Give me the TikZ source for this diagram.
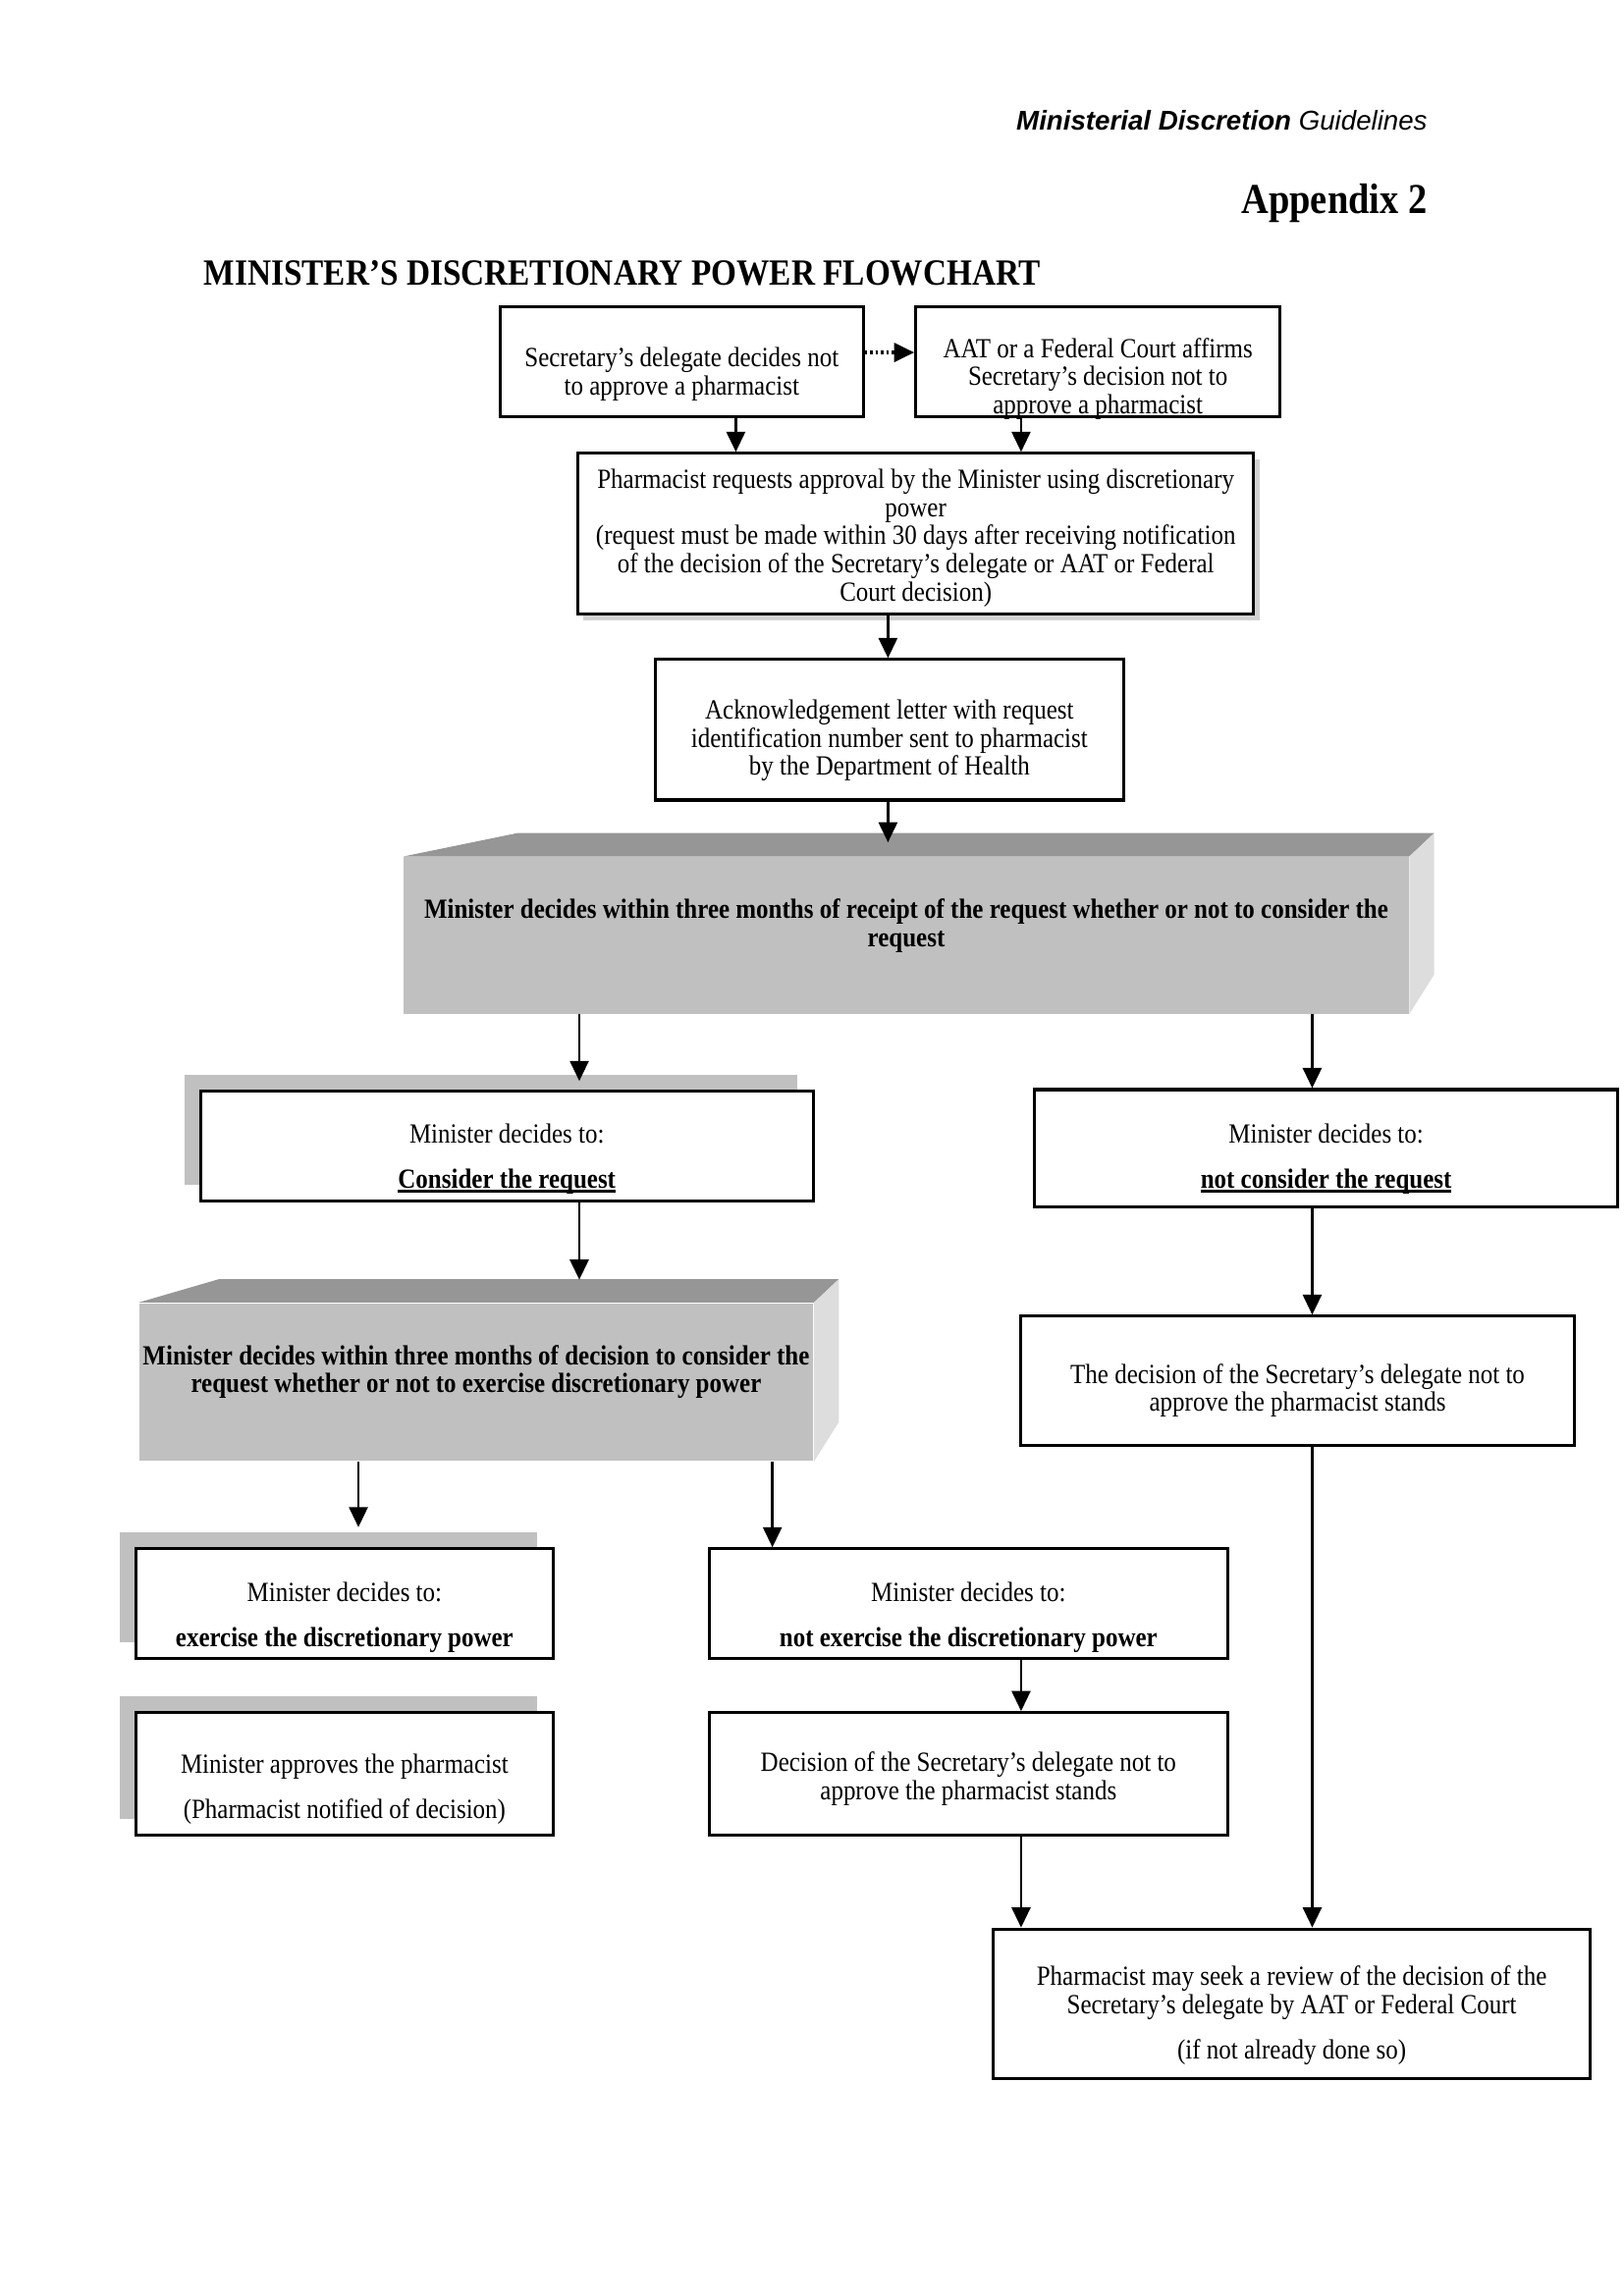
\documentclass[tikz,border=0pt]{standalone}
\usepackage{fontspec}
\setmainfont[FakeStretch=0.885]{Liberation Serif}
\newfontfamily\headfont{Liberation Sans}
\usepackage{xcolor}
\usepackage{tikz}
\usetikzlibrary{arrows.meta}
\usetikzlibrary{shadows}
\definecolor{frontgray}{HTML}{C0C0C0}
\definecolor{topgray}{HTML}{969696}
\definecolor{sidegray}{HTML}{DDDDDD}
\definecolor{backgray}{HTML}{C0C0C0}
\newlength{\pxu}
\setlength{\pxu}{0.189189mm}
\newcommand{\boxfont}{\fontsize{10.2pt}{10.35pt}\selectfont}
\newcommand{\gap}{\\[6.3pt]}
\newcommand{\thickul}[1]{\setbox0\hbox{#1}\rlap{\rule[-1.7pt]{\wd0}{0.95pt}}\box0}
% box text, pushed down by #1 without changing the box
\newcommand{\sinktext}[2]{\raisebox{-#1\pxu}[\height][\depth]{\begin{tabular}{@{}c@{}}#2\end{tabular}}}
\tikzset{
	box/.style={draw, line width=1.1pt, fill=white, inner sep=0pt, font=\boxfont},
	backbox/.style={box, drop shadow={shadow xshift=-11*\pxu, shadow yshift=11*\pxu, fill=backgray, opacity=1}},
	softbox/.style={box, drop shadow={shadow xshift=4*\pxu, shadow yshift=-4*\pxu, fill=gray!35, opacity=1}},
	slab/.style={fill=frontgray, inner sep=0pt},
	slabtext/.style={align=center, font=\boxfont\bfseries},
	arr/.style={line width=1pt, -{Triangle[length=2.6mm, width=2.4mm]}},
}

\begin{document}
\begin{tikzpicture}[x=0.189189mm, y=-0.189189mm]
	\useasboundingbox (0,0) rectangle (1110,1569.9);

	% page heading
	\node[anchor=base east, inner sep=0pt, font=\headfont\fontsize{10pt}{12pt}\selectfont] (head) at (976,89) {\textbf{\textit{Ministerial Discretion}} \textit{Guidelines}};
	\node[anchor=base east, inner sep=0pt, font=\fontsize{15.7pt}{18pt}\selectfont\bfseries] (appx) at (976,146) {Appendix 2};
	\node[anchor=base west, inner sep=0pt, font=\fontsize{13.6pt}{16pt}\selectfont\bfseries] (title) at (139,195) {MINISTER’S DISCRETIONARY POWER FLOWCHART};

	% top boxes
	\node[box, minimum width=248*\pxu, minimum height=75*\pxu] (sec) at (466,247.5) {\sinktext{9}{Secretary’s delegate decides not\\to approve a pharmacist}};
	\node[box, minimum width=249*\pxu, minimum height=75*\pxu] (aat) at (750.5,247.5) {};
	\node[font=\boxfont, align=center, inner sep=0pt] (aattxt) at (750.5,259) {AAT or a Federal Court affirms\\Secretary’s decision not to\\approve a pharmacist};

	\node[softbox, minimum width=462*\pxu, minimum height=110*\pxu] (req) at (626,365) {\sinktext{3.5}{Pharmacist requests approval by the Minister using discretionary\\power\\(request must be made within 30 days after receiving notification\\of the decision of the Secretary’s delegate or AAT or Federal\\Court decision)}};

	\node[box, minimum width=320*\pxu, minimum height=96*\pxu] (ack) at (608,499) {\sinktext{8}{Acknowledgement letter with request\\identification number sent to pharmacist\\by the Department of Health}};

	% first slab
	\node[slab, minimum width=687*\pxu, minimum height=107*\pxu] (bigone) at (619.5,639.5) {};
	\fill[topgray] (bigone.north west) -- ++(78,-16) -- ([shift={(17,-16)}]bigone.north east) -- (bigone.north east) -- cycle;
	\fill[sidegray] (bigone.north east) -- ++(17,-16) -- ([shift={(17,-27)}]bigone.south east) -- (bigone.south east) -- cycle;
	\node[slabtext] (bigonetxt) at (619.5,633) {Minister decides within three months of receipt of the request whether or not to consider the\\request};
	\coordinate (bigonelid) at (619.5,576);

	% consider or not
	\node[backbox, minimum width=419*\pxu, minimum height=75*\pxu] (cons) at (346.5,783.5) {\sinktext{9.5}{Minister decides to:\gap\textbf{\thickul{Consider the request}}}};
	\node[box, minimum width=399*\pxu, minimum height=80*\pxu] (ncons) at (906.5,785) {\sinktext{8}{Minister decides to:\gap\textbf{\thickul{not consider the request}}}};
	\node[box, minimum width=378*\pxu, minimum height=88*\pxu] (standone) at (887,944) {\sinktext{7.5}{The decision of the Secretary’s delegate not to\\approve the pharmacist stands}};

	% second slab
	\node[slab, minimum width=461*\pxu, minimum height=108*\pxu] (bigtwo) at (325.5,945) {};
	\fill[topgray] (bigtwo.north west) -- ++(55,-16) -- ([shift={(17,-16)}]bigtwo.north east) -- (bigtwo.north east) -- cycle;
	\fill[sidegray] (bigtwo.north east) -- ++(17,-16) -- ([shift={(17,-27)}]bigtwo.south east) -- (bigtwo.south east) -- cycle;
	\node[slabtext] (bigtwotxt) at (325.5,938) {Minister decides within three months of decision to consider the\\request whether or not to exercise discretionary power};
	\coordinate (bigtwolid) at (325.5,875);

	% exercise or not
	\node[backbox, minimum width=285*\pxu, minimum height=75*\pxu] (exer) at (235.5,1096.5) {\sinktext{10}{Minister decides to:\gap\textbf{exercise the discretionary power}}};
	\node[box, minimum width=354*\pxu, minimum height=75*\pxu] (nexer) at (662,1096.5) {\sinktext{10}{Minister decides to:\gap\textbf{not exercise the discretionary power}}};
	\node[backbox, minimum width=285*\pxu, minimum height=84*\pxu] (appr) at (235.5,1213) {\sinktext{11}{Minister approves the pharmacist\gap(Pharmacist notified of decision)}};
	\node[box, minimum width=354*\pxu, minimum height=84*\pxu] (standtwo) at (662,1213) {\sinktext{4}{Decision of the Secretary’s delegate not to\\approve the pharmacist stands}};

	\node[box, minimum width=408*\pxu, minimum height=102*\pxu] (review) at (883,1370) {\sinktext{9}{Pharmacist may seek a review of the decision of the\\Secretary’s delegate by AAT or Federal Court\gap(if not already done so)}};

	% arrows
	\draw[arr, densely dotted, line width=1.3pt] (sec.east |- 0,241) -- (aat.west |- 0,241);
	\draw[arr] (503,0 |- sec.south) -- (503,0 |- req.north);
	\draw[arr] (698,0 |- aat.south) -- (698,0 |- req.north);
	\draw[arr] (607,0 |- req.south) -- (607,0 |- ack.north);
	\draw[arr] (607,0 |- ack.south) -- (607,0 |- bigonelid);
	\draw[arr, shorten >=1.1mm] (396,0 |- bigone.south) -- (396,0 |- cons.north);
	\draw[arr] (897,0 |- bigone.south) -- (897,0 |- ncons.north);
	\draw[arr] (396,0 |- cons.south) -- (396,0 |- bigtwolid);
	\draw[arr] (897,0 |- ncons.south) -- (897,0 |- standone.north);
	\draw[arr, shorten >=2.6mm] (245,0 |- bigtwo.south) -- (245,0 |- exer.north);
	\draw[arr] (528,0 |- bigtwo.south) -- (528,0 |- nexer.north);
	\draw[arr] (698,0 |- nexer.south) -- (698,0 |- standtwo.north);
	\draw[arr] (698,0 |- standtwo.south) -- (698,0 |- review.north);
	\draw[arr] (897,0 |- standone.south) -- (897,0 |- review.north);

\end{tikzpicture}
\end{document}
